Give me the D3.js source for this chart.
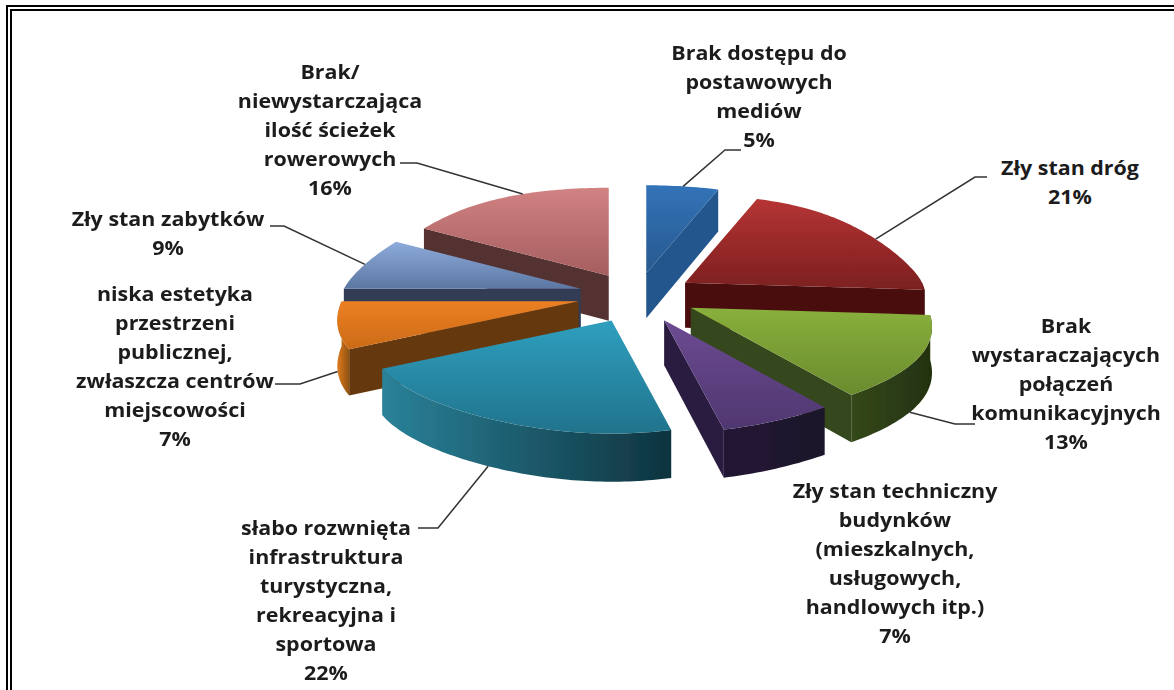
<!DOCTYPE html>
<html>
<head>
<meta charset="utf-8">
<script src="https://cdn.jsdelivr.net/npm/d3@7"></script>
<style>
  html, body { margin: 0; padding: 0; background: #fff; }
  svg { display: block; }
  text { font-family: "Open Sans", sans-serif; font-weight: 700; font-size: 19.5px; fill: #1c1c1c; }
</style>
</head>
<body>
<script>
// chart data, clockwise from 12 o'clock
const categories = [
    ['Brak dostępu do', 'postawowych', 'mediów'],
    ['Zły stan dróg'],
    ['Brak', 'wystaraczających', 'połączeń', 'komunikacyjnych'],
    ['Zły stan techniczny', 'budynków', '(mieszkalnych,', 'usługowych,', 'handlowych itp.)'],
    ['słabo rozwnięta', 'infrastruktura', 'turystyczna,', 'rekreacyjna i', 'sportowa'],
    ['niska estetyka', 'przestrzeni', 'publicznej,', 'zwłaszcza centrów', 'miejscowości'],
    ['Zły stan zabytków'],
    ['Brak/', 'niewystarczająca', 'ilość ścieżek', 'rowerowych']
];
const percents = [5, 21, 13, 7, 22, 7, 9, 16];

// colours per slice: top face light/dark, flat wall, arc wall left/right
const topLight = ['#3273b8', '#b63434', '#89b03c', '#6c4b92', '#2f9fbf', '#ec8023', '#8dabdb', '#d18282'];
const topDark = ['#28598f', '#7c1f1f', '#6a8b2e', '#4f3770', '#21738c', '#cc6a17', '#5c77a2', '#a55e5e'];
const wallFlat = ['#24568c', '#4a1010', '#34461a', '#2b1d3f', '#14444f', '#66370c', '#303d55', '#553030'];
const arcLeft = ['#24568c', '#4a1010', '#34481a', '#221835', '#2a8299', '#dd7a1e', '#303d55', '#553030'];
const arcRight = ['#24568c', '#4a1010', '#233210', '#1d1429', '#0e333e', '#8f5210', '#303d55', '#553030'];

// label layout: centre x, first line y, leader elbow and leader start
const labelX = [759, 1070, 1066, 895, 326, 175, 168, 330];
const labelY = [54, 169, 327, 492, 529, 295, 220, 73];
const leaderElbow = [[725, 150], [975, 177], [955, 424], null, [438, 528], [300, 384], [284, 226], [417, 163]];
const leaderStart = [[741, 150], [987, 177], [975, 424], null, [418, 528], [275, 384], [270, 226], [400, 163]];
// where along the slice's rim the leader lands, 0 = start, 1 = end
const leaderAlong = [0.5, 0.56, 0.58, 0.5, 0.56, 0.5, 0.5, 0.62];

const width = 1174, height = 690;
const cx = 637, cy = 295;
const rx = 237, ryBack = 88, ryFront = 113;
const explode = 0.25, depth = 45, lineStep = 29;
const textStretch = 1.1;

const svg = d3.select('body').append('svg')
    .attr('width', width)
    .attr('height', height);
const defs = svg.append('defs');

// the source picture is a soft screenshot
defs.append('filter')
    .attr('id', 'soft')
    .append('feGaussianBlur')
    .attr('stdDeviation', 0.5);

// Frame, only the left and top sides are in the picture
[[7, 6], [11, 10]].forEach(p => {
    svg.append('path')
        .attr('d', `M${p[0]},${height} V${p[1]} H${width}`)
        .attr('fill', 'none')
        .attr('stroke', '#000')
        .attr('stroke-width', 2);
});

const radius = d3.scaleLinear().domain([0, 1]).range([0, 1]);

// polar position on the tilted pie, angle clockwise from the top
// the extra x factor widens the front and narrows the back like the 3D perspective
function project(angle, frac) {
    const c = Math.cos(angle), s = Math.sin(angle);
    const r = radius(frac);
    return [
        r * rx * s * (1 - 0.2 * r * c * s * s),
        -r * c * (c > 0 ? ryBack : ryFront)
    ];
}

// walls get a little taller towards the viewer
function wallHeight(angle) {
    return depth * (1 - 0.07 * Math.cos(angle));
}

const pie = d3.pie().sort(null).value(d => d);
const slices = pie(percents).map((d, i) => {
    const mid = (d.startAngle + d.endAngle) / 2;
    const off = project(mid, explode);
    return { i, a0: d.startAngle, a1: d.endAngle, mid, ox: cx + off[0], oy: cy + off[1] };
});

const line = d3.line();

function arcAngles(a0, a1) {
    const n = Math.max(2, Math.ceil((a1 - a0) / 0.02));
    return d3.range(n + 1).map(k => a0 + (a1 - a0) * k / n);
}

function addGradient(id, x2, y2, from, to) {
    const g = defs.append('linearGradient')
        .attr('id', id)
        .attr('x1', 0).attr('y1', 0)
        .attr('x2', x2).attr('y2', y2);
    g.append('stop').attr('offset', 0).attr('stop-color', from);
    g.append('stop').attr('offset', 1).attr('stop-color', to);
}

function radialWall(g, s, angle) {
    const e = project(angle, 1);
    g.append('path')
        .attr('d', line([[0, 0], e, [e[0], e[1] + wallHeight(angle)], [0, depth]]) + 'Z')
        .attr('fill', wallFlat[s.i]);
}

// Back slices first so the front ones paint over them
const ordered = slices.slice().sort((a, b) => d3.descending(Math.cos(a.mid), Math.cos(b.mid)));
const pieGroup = svg.append('g').attr('filter', 'url(#soft)');

ordered.forEach(s => {
    const g = pieGroup.append('g').attr('transform', `translate(${s.ox},${s.oy})`);
    addGradient(`top${s.i}`, 0, 1, topLight[s.i], topDark[s.i]);
    addGradient(`arc${s.i}`, 1, 0, arcLeft[s.i], arcRight[s.i]);

    // only the walls that face the viewer
    if (Math.sin(s.a0) < -1e-6) radialWall(g, s, s.a0);
    if (Math.sin(s.a1) > 1e-6) radialWall(g, s, s.a1);

    const from = Math.max(s.a0, Math.PI / 2);
    const to = Math.min(s.a1, Math.PI * 1.5);
    if (to > from) {
        const angles = arcAngles(from, to);
        const upper = angles.map(a => project(a, 1));
        const lower = angles.map(a => {
            const p = project(a, 1);
            return [p[0], p[1] + wallHeight(a)];
        }).reverse();
        g.append('path')
            .attr('d', line(upper.concat(lower)) + 'Z')
            .attr('fill', `url(#arc${s.i})`);
    }

    const rim = arcAngles(s.a0, s.a1).map(a => project(a, 1));
    g.append('path')
        .attr('d', line([[0, 0]].concat(rim)) + 'Z')
        .attr('fill', `url(#top${s.i})`);
});

// Leader lines run from the label to the slice's rim
slices.forEach(s => {
    if (!leaderElbow[s.i]) return;
    const a = s.a0 + (s.a1 - s.a0) * leaderAlong[s.i];
    const e = project(a, 1);
    let tip = [s.ox + e[0], s.oy + e[1]];
    if (Math.cos(a) < 0) tip = [tip[0], tip[1] + wallHeight(a)];
    svg.append('path')
        .attr('d', line([leaderStart[s.i], leaderElbow[s.i], tip]))
        .attr('fill', 'none')
        .attr('stroke', '#333')
        .attr('stroke-width', 1.5);
});

// Labels, stretched a bit since the picture itself is wider than tall
categories.forEach((lines, i) => {
    const t = svg.append('text')
        .attr('text-anchor', 'middle')
        .attr('transform', `translate(${labelX[i]},${labelY[i] + 6}) scale(${textStretch},1)`);
    lines.concat([percents[i] + '%']).forEach((txt, k) => {
        t.append('tspan')
            .attr('x', 0)
            .attr('y', k * lineStep)
            .text(txt);
    });
});
</script>
</body>
</html>
